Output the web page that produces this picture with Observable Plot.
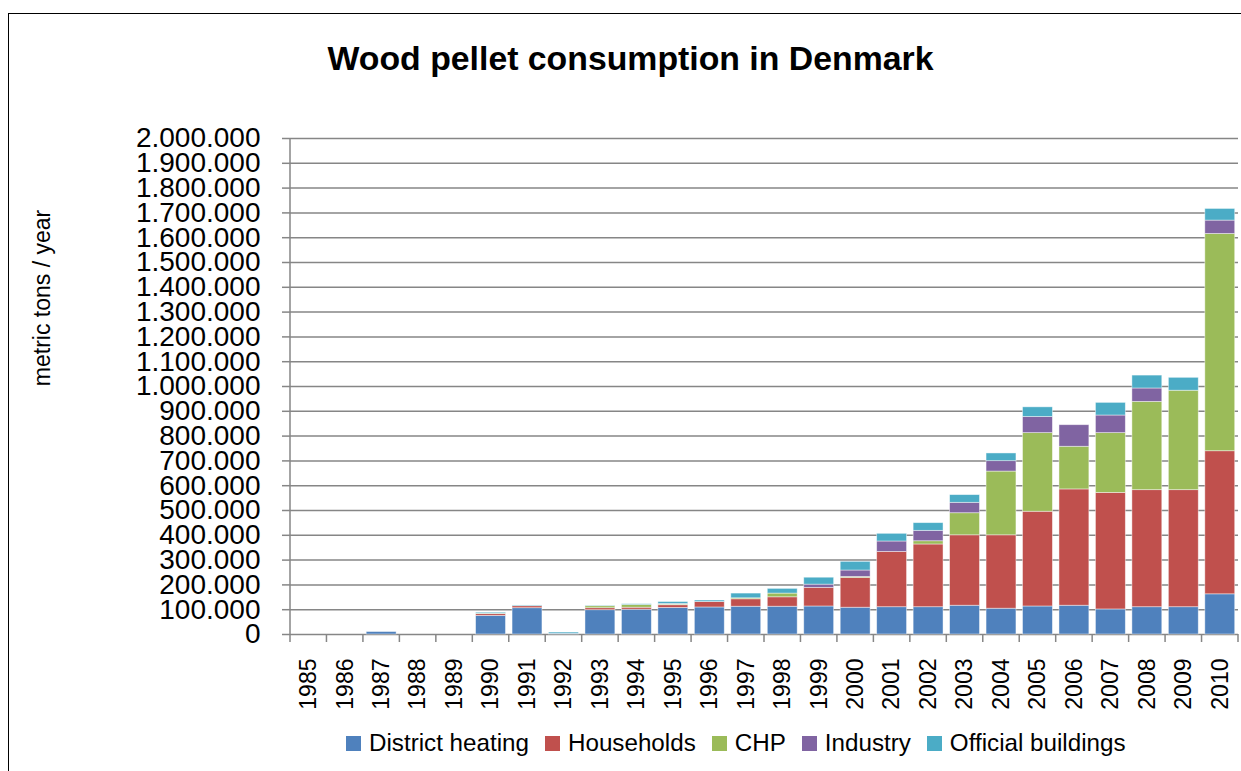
<!DOCTYPE html>
<html>
<head>
<meta charset="utf-8">
<script src="https://cdn.jsdelivr.net/npm/d3@7"></script>
<script src="https://cdn.jsdelivr.net/npm/@observablehq/plot@0.6"></script>
<style>
  html, body { margin: 0; padding: 0; background: #fff; overflow: hidden; }
  body { width: 1241px; height: 771px; position: relative; font-family: "Liberation Sans", Arial, sans-serif; }
  #frame { position: absolute; left: 8px; top: 13px; width: 1400px; height: 900px; border: 1.5px solid #000; box-sizing: border-box; }
  #title { position: absolute; left: 0; width: 1261px; top: 42px; text-align: center; font-weight: bold; font-size: 33.8px; line-height: 1; color: #000; }
  #ylabel { position: absolute; left: 42px; top: 298px; transform: translate(-50%, -50%) rotate(-90deg); font-size: 23px; line-height: 1; white-space: nowrap; color: #000; }
  #chart { position: absolute; left: 0; top: 0; }
  #legend { position: absolute; left: 346px; top: 729px; display: flex; align-items: center; font-size: 24.2px; line-height: 28px; color: #000; white-space: nowrap; }
  #legend .item { display: flex; align-items: center; margin-right: 16px; }
  #legend .sw { width: 15px; height: 15px; margin-right: 8px; }
</style>
</head>
<body>
<div id="frame"></div>
<div id="chart"></div>
<div id="title">Wood pellet consumption in Denmark</div>
<div id="ylabel">metric tons / year</div>
<div id="legend"></div>
<script>
const years = ["1985","1986","1987","1988","1989","1990","1991","1992","1993","1994","1995","1996","1997","1998","1999","2000","2001","2002","2003","2004","2005","2006","2007","2008","2009","2010"];
const seriesNames = ["District heating", "Households", "CHP", "Industry", "Official buildings"];
const seriesColors = ["#4F81BD", "#C0504D", "#9BBB59", "#8064A2", "#4BACC6"];

const districtHeating = [0,0,10000,0,0,75000,106000,3000,98000,100000,107000,109000,112000,112000,113000,108000,110000,110000,116000,104000,113000,116000,101000,110000,110000,162000];
const households      = [0,0,0,0,0,7000,8000,0,8000,8000,11000,22000,30000,38000,75000,120000,223000,253000,284000,296000,382000,469000,470000,472000,472000,577000];
const chp             = [0,0,0,0,0,2000,0,0,8000,11000,3000,0,4000,15000,0,4000,0,13000,89000,257000,317000,172000,241000,356000,401000,876000];
const industry        = [0,0,0,0,0,0,0,0,0,0,2000,0,0,0,13000,26000,42000,42000,42000,42000,65000,87000,71000,54000,0,54000];
const officialBuildings = [0,0,0,0,0,4000,3000,5000,2000,3000,8000,6000,19000,19000,28000,35000,31000,31000,31000,31000,39000,0,51000,52000,52000,47000];

const yTicks = d3.range(0, 2000001, 100000);

const seriesValues = [districtHeating, households, chp, industry, officialBuildings];
const data = [];
seriesNames.forEach((name, s) => {
  years.forEach((year, i) => {
    const v = seriesValues[s][i];
    if (v > 0) data.push({year, series: name, value: v});
  });
});

const locale = d3.formatLocale({decimal: ",", thousands: ".", grouping: [3], currency: ["", ""]});
const fmt = locale.format(",d");

function axisLines(index, scales, values, dimensions) {
  const sx = scales.x, sy = scales.y;
  const bw = typeof sx.bandwidth === "function" ? sx.bandwidth() : (sx.bandwidth || 0);
  const centers = years.map(y => sx(y) + bw / 2);
  const step = centers[1] - centers[0];
  const bounds = centers.map(c => c - step / 2).concat([centers[centers.length - 1] + step / 2]);
  const y0 = sy(0);
  const g = d3.create("svg:g").attr("stroke", "#868686").attr("stroke-width", 1.5);
  bounds.forEach(b => g.append("line").attr("x1", b).attr("x2", b).attr("y1", y0).attr("y2", y0 + 8));
  g.append("line").attr("x1", bounds[0]).attr("x2", bounds[0]).attr("y1", sy(yTicks[yTicks.length - 1])).attr("y2", y0);
  return g.node();
}

const chart = Plot.plot({
  width: 1241,
  height: 771,
  marginLeft: 290,
  marginRight: 3,
  marginTop: 138,
  marginBottom: 137,
  style: {fontFamily: "'Liberation Sans', Arial, sans-serif", background: "transparent", color: "#000"},
  x: {domain: years, paddingInner: 0.18, paddingOuter: 0.09, round: false, label: null},
  y: {domain: [0, 2000000], label: null},
  color: {domain: seriesNames, range: seriesColors},
  marks: [
    Plot.ruleY(yTicks, {stroke: "#868686", strokeWidth: 1.5}),
    Plot.barY(data, {x: "year", y: "value", fill: "series", z: "series", stroke: "white", strokeOpacity: 0.55, strokeWidth: 0.8}),
    axisLines,
    Plot.axisY({ticks: yTicks, tickFormat: fmt, tickSize: 8, tickPadding: 22, fontSize: 28, stroke: "#868686", strokeWidth: 1.5, label: null}),
    Plot.axisX({tickRotate: -90, tickSize: 0, tickPadding: 24, fontSize: 23, label: null})
  ]
});
document.getElementById("chart").appendChild(chart);

const legend = document.getElementById("legend");
seriesNames.forEach((name, i) => {
  const item = document.createElement("div");
  item.className = "item";
  const sw = document.createElement("div");
  sw.className = "sw";
  sw.style.background = seriesColors[i];
  const label = document.createElement("span");
  label.textContent = name;
  item.appendChild(sw);
  item.appendChild(label);
  legend.appendChild(item);
});
</script>
</body>
</html>
